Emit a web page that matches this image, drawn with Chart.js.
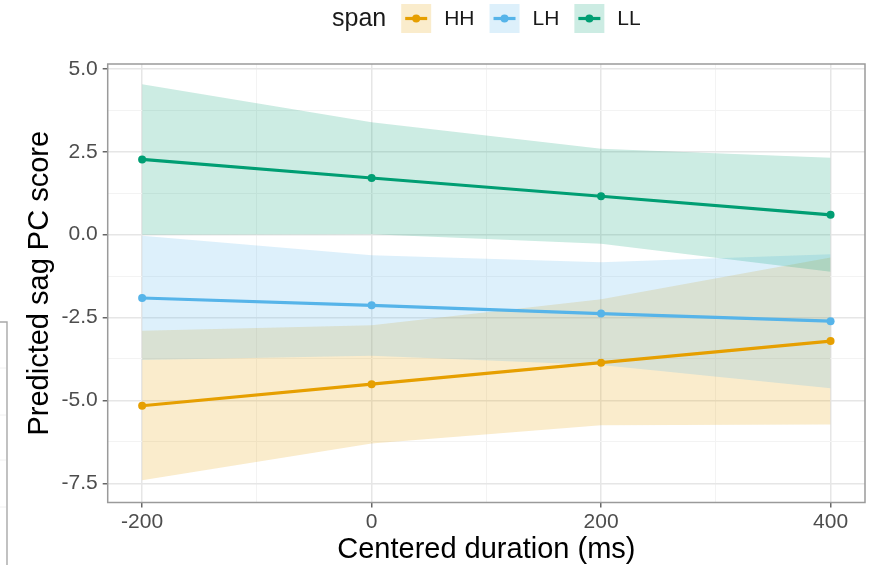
<!DOCTYPE html>
<html>
<head>
<meta charset="utf-8">
<title>Predicted sag PC score by centered duration</title>
<script src="https://cdn.jsdelivr.net/npm/chart.js@4.4.1/dist/chart.umd.min.js"></script>
<style>
  html, body { margin: 0; padding: 0; background: #ffffff; }
  #wrap { position: relative; width: 869px; height: 565px; }
</style>
</head>
<body>
<div id="wrap"><canvas id="chart" width="869" height="565"></canvas></div>
<script>
// Centered duration (ms) at which the model predictions are evaluated
const durations = [-200, 0, 200, 400];

// Span levels, in legend order
const spans = ['HH', 'LH', 'LL'];
const spanColors = ['#E69F00', '#56B4E9', '#009E73'];

// HH: fitted value and 95% interval
const hhFit   = [-5.16, -4.51, -3.86, -3.21];
const hhLower = [-7.41, -6.30, -5.75, -5.73];
const hhUpper = [-2.90, -2.73, -1.95, -0.69];

// LH: fitted value and 95% interval
const lhFit   = [-1.91, -2.13, -2.38, -2.61];
const lhLower = [-3.78, -3.65, -3.93, -4.63];
const lhUpper = [-0.03, -0.62, -0.83, -0.59];

// LL: fitted value and 95% interval
const llFit   = [2.27, 1.71, 1.16, 0.60];
const llLower = [0.00, 0.01, -0.27, -1.12];
const llUpper = [4.54, 3.39, 2.59, 2.32];

// Labelled axis breaks
const xTicks = [-200, 0, 200, 400];
const yTicks = [-7.5, -5.0, -2.5, 0.0, 2.5, 5.0];

const fits   = [hhFit, lhFit, llFit];
const lowers = [hhLower, lhLower, llLower];
const uppers = [hhUpper, lhUpper, llUpper];

const X_RANGE = [-230, 430];
const Y_RANGE = [-8.08, 5.15];

const FONT = "'Liberation Sans', Arial, Helvetica, sans-serif";
const RIBBON_ALPHA = 0.2;

function rgba(hex, a) {
  const n = parseInt(hex.slice(1), 16);
  return `rgba(${(n >> 16) & 255}, ${(n >> 8) & 255}, ${n & 255}, ${a})`;
}

function points(ys) {
  return durations.map((x, i) => ({ x: x, y: ys[i] }));
}

// Major breaks plus the minor breaks half way between them, kept inside the range
function withMinor(major, range) {
  const out = [];
  const step = major[1] - major[0];
  for (let i = 0; i < major.length; i++) {
    if (i === 0) out.push({ value: major[0] - step / 2, minor: true });
    out.push({ value: major[i], minor: false });
    out.push({ value: major[i] + step / 2, minor: true });
  }
  return out.filter(t => t.value >= range[0] && t.value <= range[1]);
}

const datasets = [];
spans.forEach((name, s) => {
  // confidence ribbon: upper edge filled down to the lower edge
  datasets.push({
    label: name + ' upper',
    data: points(uppers[s]),
    borderWidth: 0,
    pointRadius: 0,
    backgroundColor: rgba(spanColors[s], RIBBON_ALPHA),
    fill: '+1',
    order: 30 - s * 10
  });
  datasets.push({
    label: name + ' lower',
    data: points(lowers[s]),
    borderWidth: 0,
    pointRadius: 0,
    fill: false,
    order: 30 - s * 10
  });
});
spans.forEach((name, s) => {
  // fitted line with points
  datasets.push({
    label: name,
    data: points(fits[s]),
    borderColor: spanColors[s],
    backgroundColor: spanColors[s],
    borderWidth: 3.2,
    pointRadius: 4,
    pointBorderWidth: 0,
    pointBackgroundColor: spanColors[s],
    fill: false,
    tension: 0,
    order: 3 - s
  });
});

// Panel border drawn over the data, plus the thin frame at the far left
const panelBorder = {
  id: 'panelBorder',
  afterDatasetsDraw(chart) {
    const { ctx, chartArea: a } = chart;
    ctx.save();
    ctx.strokeStyle = '#9a9a9a';
    ctx.lineWidth = 1.5;
    ctx.strokeRect(a.left, a.top, a.right - a.left, a.bottom - a.top);
    ctx.restore();
  },
  afterDraw(chart) {
    const { ctx, height } = chart;
    ctx.save();
    ctx.strokeStyle = '#f0f0f0';
    ctx.lineWidth = 1;
    [368, 415, 460, 507].forEach(y => {
      ctx.beginPath(); ctx.moveTo(0, y); ctx.lineTo(6, y); ctx.stroke();
    });
    ctx.strokeStyle = '#a8a8a8';
    ctx.lineWidth = 1.4;
    ctx.beginPath();
    ctx.moveTo(0, 322);
    ctx.lineTo(7, 322);
    ctx.lineTo(7, height);
    ctx.stroke();
    ctx.restore();
  }
};

// Horizontal legend above the panel: title followed by ribbon/line/point keys
const spanLegend = {
  id: 'spanLegend',
  afterDraw(chart) {
    const { ctx, chartArea: a } = chart;
    const titleFont = '25px ' + FONT;
    const labelFont = '21px ' + FONT;
    const keyW = 30, keyH = 29;
    const gapTitle = 15, gapKey = 13, gapItem = 15;
    const cy = 18.5;

    ctx.save();
    ctx.font = titleFont;
    const titleW = ctx.measureText('span').width;
    ctx.font = labelFont;
    const labelW = spans.map(t => ctx.measureText(t).width);
    let total = titleW + gapTitle;
    labelW.forEach((w, i) => {
      total += keyW + gapKey + w + (i < spans.length - 1 ? gapItem : 0);
    });
    let x = (a.left + a.right) / 2 - total / 2;

    ctx.textBaseline = 'middle';
    ctx.textAlign = 'left';
    ctx.fillStyle = '#1a1a1a';
    ctx.font = titleFont;
    ctx.fillText('span', x, cy + 1);
    x += titleW + gapTitle;

    spans.forEach((name, i) => {
      const col = spanColors[i];
      ctx.fillStyle = rgba(col, RIBBON_ALPHA);
      ctx.fillRect(x, cy - keyH / 2, keyW, keyH);
      ctx.strokeStyle = col;
      ctx.lineWidth = 3.2;
      ctx.beginPath();
      ctx.moveTo(x + 4, cy);
      ctx.lineTo(x + keyW - 4, cy);
      ctx.stroke();
      ctx.fillStyle = col;
      ctx.beginPath();
      ctx.arc(x + keyW / 2, cy, 4, 0, Math.PI * 2);
      ctx.fill();
      x += keyW + gapKey;
      ctx.fillStyle = '#1a1a1a';
      ctx.font = labelFont;
      ctx.fillText(name, x, cy + 1);
      x += labelW[i] + gapItem;
    });
    ctx.restore();
  }
};

function gridColor(ctx) {
  return ctx.tick && ctx.tick.minor ? '#f3f3f3' : '#e6e6e6';
}
function gridWidth(ctx) {
  return ctx.tick && ctx.tick.minor ? 1 : 1.5;
}
function tickColor(ctx) {
  return ctx.tick && ctx.tick.minor ? 'rgba(0,0,0,0)' : '#666666';
}

new Chart(document.getElementById('chart'), {
  type: 'line',
  data: { datasets: datasets },
  plugins: [panelBorder, spanLegend],
  options: {
    responsive: false,
    devicePixelRatio: 1,
    animation: false,
    layout: { padding: { top: 64, right: 3, bottom: 0, left: 0 } },
    plugins: {
      legend: { display: false },
      tooltip: { enabled: false },
      filler: { propagate: false }
    },
    scales: {
      x: {
        type: 'linear',
        min: X_RANGE[0],
        max: X_RANGE[1],
        afterBuildTicks(scale) { scale.ticks = withMinor(xTicks, X_RANGE); },
        afterFit(scale) { scale.height = 62.5; },
        ticks: {
          autoSkip: false,
          maxRotation: 0,
          padding: 2.5,
          color: '#4d4d4d',
          font: { family: FONT, size: 21 },
          callback(value, index, ticks) {
            return ticks[index].minor ? '' : String(value);
          }
        },
        grid: {
          color: gridColor,
          lineWidth: gridWidth,
          tickColor: tickColor,
          tickLength: 5,
          tickWidth: 1.5,
          drawTicks: true
        },
        border: { display: false },
        title: {
          display: true,
          text: 'Centered duration (ms)',
          color: '#000000',
          font: { family: FONT, size: 29, lineHeight: 1 },
          padding: { top: 0, bottom: 0.5 }
        }
      },
      y: {
        type: 'linear',
        min: Y_RANGE[0],
        max: Y_RANGE[1],
        afterBuildTicks(scale) { scale.ticks = withMinor(yTicks, Y_RANGE); },
        afterFit(scale) { scale.width = 107.7; },
        ticks: {
          autoSkip: false,
          padding: 5,
          color: '#4d4d4d',
          font: { family: FONT, size: 21 },
          callback(value, index, ticks) {
            return ticks[index].minor ? '' : Number(value).toFixed(1);
          }
        },
        grid: {
          color: gridColor,
          lineWidth: gridWidth,
          tickColor: tickColor,
          tickLength: 5,
          tickWidth: 1.5,
          drawTicks: true
        },
        border: { display: false },
        title: {
          display: true,
          text: 'Predicted sag PC score',
          color: '#000000',
          font: { family: FONT, size: 29, lineHeight: 1 },
          padding: { top: 25.5, bottom: 0 }
        }
      }
    }
  }
});
</script>
</body>
</html>
